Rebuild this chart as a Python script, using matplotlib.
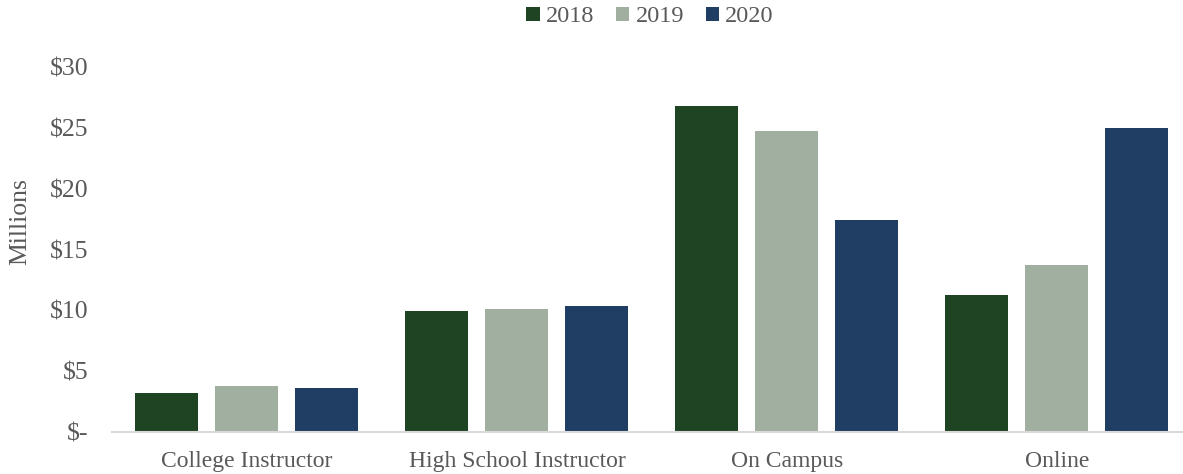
import numpy as np
import matplotlib.pyplot as plt
from matplotlib.ticker import FuncFormatter

categories = ["College Instructor", "High School Instructor", "On Campus", "Online"]
years = ["2018", "2019", "2020"]
vals_2018 = [3.18, 9.95, 26.8, 11.23]
vals_2019 = [3.78, 10.1, 24.73, 13.72]
vals_2020 = [3.59, 10.35, 17.4, 24.95]
colors = ["#1F4423", "#A1AFA0", "#203D63"]

plt.rcParams['font.family'] = ['Liberation Serif', 'DejaVu Serif']
text_color = "#595959"

fig = plt.figure(figsize=(11.83, 4.74), dpi=100)
ax = fig.add_axes([112 / 1183, 42 / 474, 1 - 112 / 1183, (432 - 67) / 474])

x = np.arange(len(categories))
step = 80 / 270
width = 63 / 270
for i, (vals, yr) in enumerate(zip([vals_2018, vals_2019, vals_2020], years)):
    ax.bar(x + (i - 1) * step, vals, width, color=colors[i], label=yr)

ax.set_xlim(-0.5, 3.467)
ax.set_ylim(0, 30)
ax.set_yticks(range(0, 31, 5))
ax.yaxis.set_major_formatter(FuncFormatter(lambda v, p: "$-" if v == 0 else f"${int(v)}"))
ax.set_xticks(x)
ax.set_xticklabels(categories)

for side in ["top", "right", "left"]:
    ax.spines[side].set_visible(False)
ax.spines["bottom"].set_color("#D9D9D9")
ax.spines["bottom"].set_linewidth(1.5)
ax.tick_params(axis="x", length=0, labelsize=17, colors=text_color, pad=14)
ax.tick_params(axis="y", length=0, labelsize=18.5, colors=text_color, pad=17)

# axis title sits a little above the plot's vertical centre
fig.text(20 / 1183, 1 - 222 / 474, "Millions", rotation=90, ha="center", va="center",
         fontsize=18.5, color=text_color)

leg = fig.legend(loc="center", bbox_to_anchor=(650 / 1183, 1 - 17 / 474), ncol=3,
                 frameon=False, fontsize=17.5, handlelength=0.55, handleheight=0.55,
                 handletextpad=0.25, columnspacing=0.9)
for t in leg.get_texts():
    t.set_color(text_color)

fig.savefig("out.png", dpi=100)
